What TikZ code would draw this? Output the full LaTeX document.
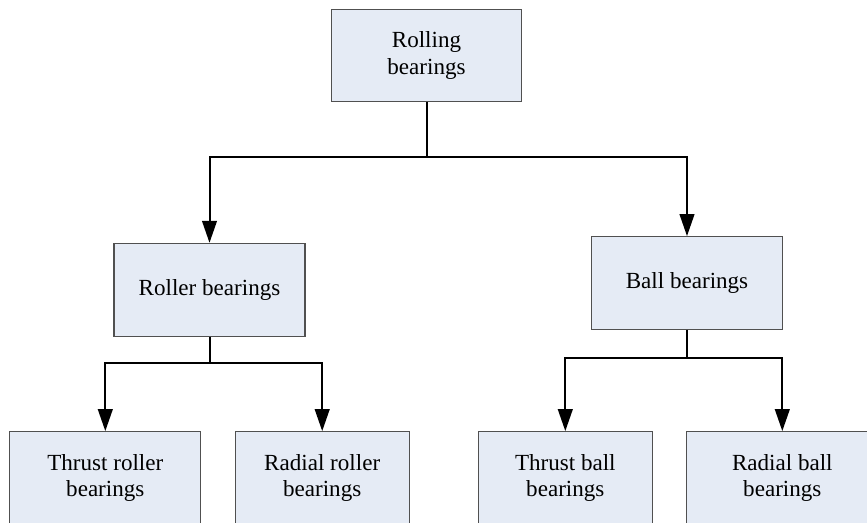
\documentclass[tikz,border=0pt]{standalone}
\usepackage{fontspec}
\setmainfont{Liberation Serif}
\usetikzlibrary{arrows.meta}
\definecolor{boxfill}{HTML}{E5EBF5}
\definecolor{boxline}{HTML}{505050}
\begin{document}
\begin{tikzpicture}[x=0.75pt,y=-0.75pt,
  box/.style={draw=boxline, line width=0.8pt, fill=boxfill, minimum height=92.7*0.75pt,
    inner sep=0pt, align=center, font=\fontsize{17.3}{20}\selectfont},
  conn/.style={line width=1.5pt, black},
  arr/.style={conn, -{Triangle[length=16.5pt,width=11pt]}}]
\useasboundingbox (0,0) rectangle (867,522);
\clip (0,0) rectangle (867,522);
\node[box, minimum width=190*0.75pt] (rolling) at (426.5,55.5) {Rolling\\bearings};
\node[box, minimum width=191*0.75pt] (roller) at (209.5,289.7) {Roller bearings};
\node[box, minimum width=190.6*0.75pt] (ball) at (687,283) {Ball bearings};
\node[box, minimum width=191.3*0.75pt] (troller) at (105.3,478) {Thrust roller\\bearings};
\node[box, minimum width=174.3*0.75pt] (rroller) at (322.2,478) {Radial roller\\bearings};
\node[box, minimum width=174*0.75pt] (tball) at (565.3,478) {Thrust ball\\bearings};
\node[box, minimum width=191.3*0.75pt] (rball) at (782.3,478) {Radial ball\\bearings};
\coordinate (j1) at (426.5,157);
\coordinate (j2) at (209.5,363.3);
\coordinate (j3) at (687,358.3);
\draw[conn] (rolling.south) -- (j1);
\draw[arr] (j1) -| (roller.north);
\draw[arr] (j1) -| (ball.north);
\draw[conn] (roller.south) -- (j2);
\draw[arr] (j2) -| (troller.north);
\draw[arr] (j2) -| (rroller.north);
\draw[conn] (ball.south) -- (j3);
\draw[arr] (j3) -| (tball.north);
\draw[arr] (j3) -| (rball.north);
\end{tikzpicture}
\end{document}
